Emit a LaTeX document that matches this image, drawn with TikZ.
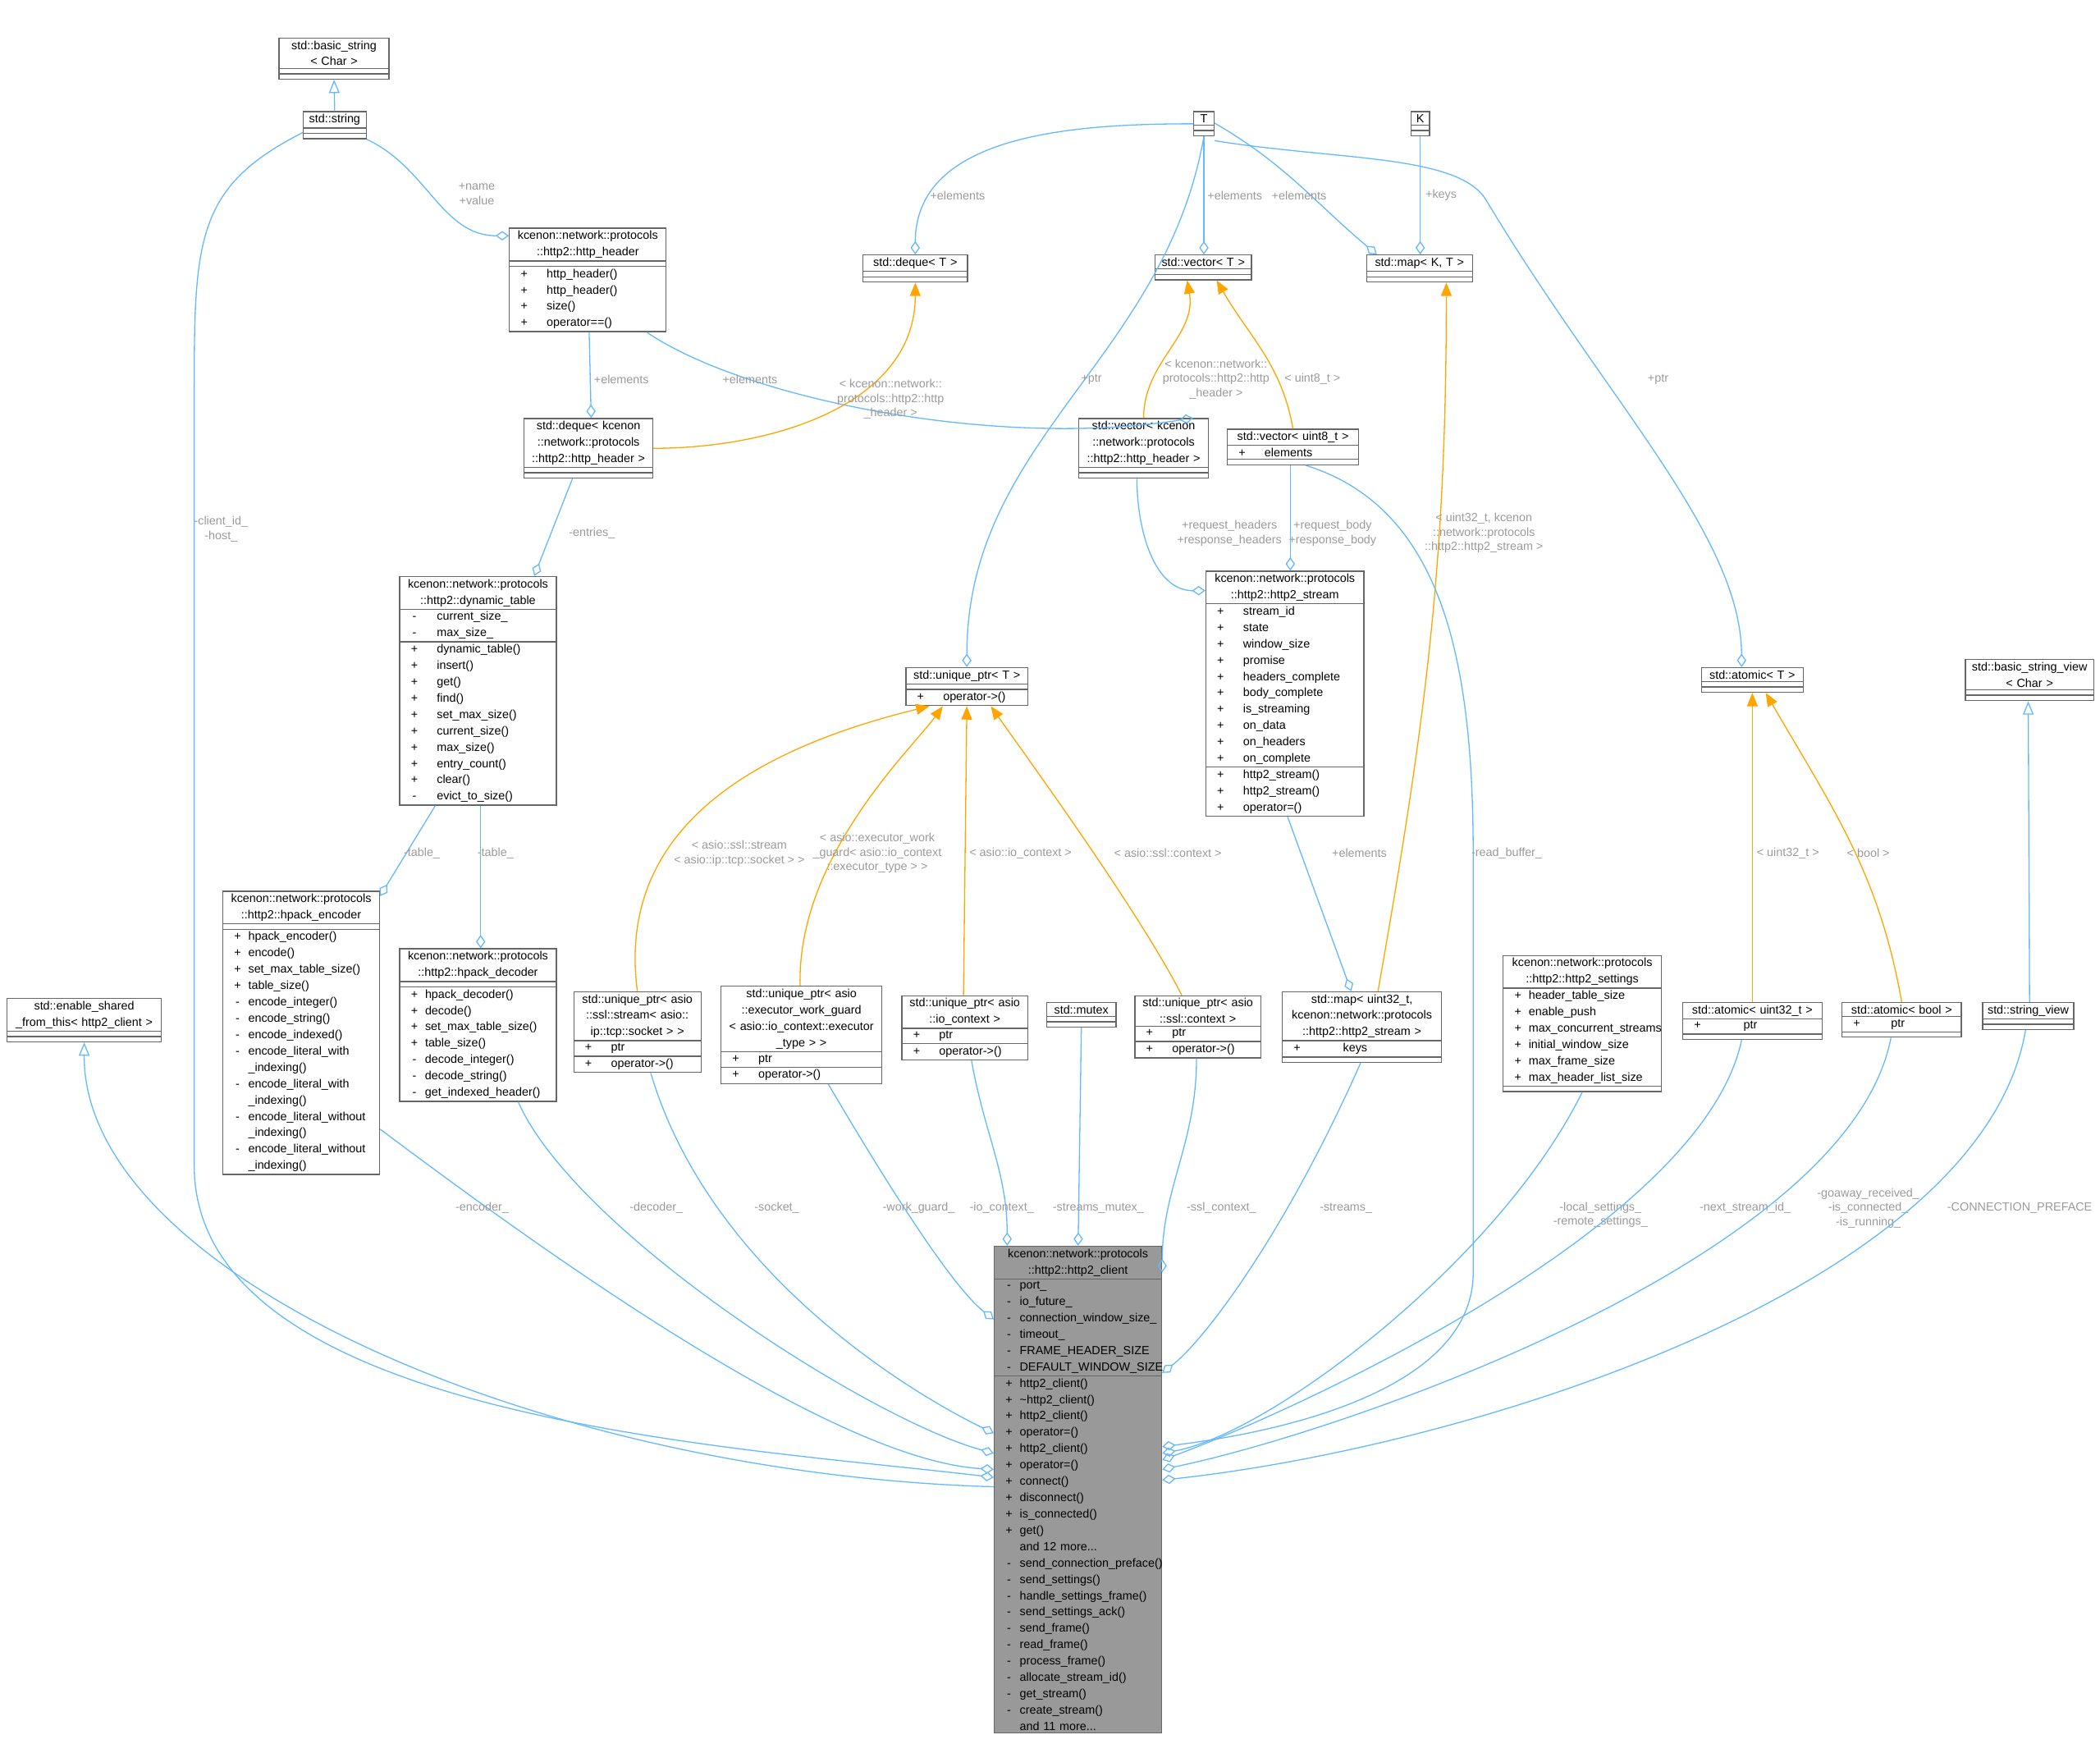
\documentclass[tikz,border=0pt]{standalone}
\usepackage{fontspec}
\newfontfamily\dox{Liberation Sans}
\usetikzlibrary{shapes.multipart,arrows.meta,calc}
\definecolor{edgeblue}{RGB}{99,184,255}
\definecolor{tmplorange}{RGB}{255,165,0}
\definecolor{lblgray}{RGB}{154,154,154}
\newcommand\mb[2]{\leavevmode\hbox to\linewidth{\makebox[8pt][c]{#1}#2\hfil}}
\begin{document}
\begin{tikzpicture}[x=0.5pt,y=-0.5pt]
 \tikzstyle{cls} = [rectangle split, rectangle split parts=3, draw=black!60, fill=white,
   font=\dox\fontsize{4.4}{6.1}\selectfont, inner xsep=1.5pt, inner ysep=0.8pt,
   align=center, anchor=north west, rectangle split empty part height=4.5pt];
 \tikzstyle{agg} = [draw=edgeblue, -{Diamond[open,length=5pt,width=3.5pt]}];
 \tikzstyle{inh} = [draw=edgeblue, -{Triangle[open,length=5pt,width=4pt]}];
 \tikzstyle{tpl} = [draw=tmplorange, -{Triangle[length=5pt,width=4pt]}];
 \tikzstyle{lbl} = [font=\dox\fontsize{4.4}{5.4}\selectfont, text=lblgray, align=center, inner sep=0.5pt];
 \useasboundingbox (0,0) rectangle (1568,1302);

% classes, top row
\node [cls, text width=38pt] (bstr) at (208,28) {std::basic\_string\\< Char >\nodepart{two}\nodepart{three}};
\node [cls, text width=20.5pt] (str) at (226,83) {std::string\nodepart{two}\nodepart{three}};
\node [cls, text width=4.5pt] (tT) at (891,83) {T\nodepart{two}\nodepart{three}};
\node [cls, text width=4pt] (tK) at (1053,83) {K\nodepart{two}\nodepart{three}};
\node [cls, text width=55.5pt] (hh) at (380,170) {kcenon::network::protocols\\::http2::http\_header\nodepart{two}\nodepart{three}
  \mb{+}{\quad http\_header()}\\\mb{+}{\quad http\_header()}\\\mb{+}{\quad size()}\\\mb{+}{\quad operator==()}};
\node [cls, text width=36pt] (dqT) at (644,190) {std::deque< T >\nodepart{two}\nodepart{three}};
\node [cls, text width=33pt] (vecT) at (862,190) {std::vector< T >\nodepart{two}\nodepart{three}};
\node [cls, text width=36.5pt] (mapKT) at (1020,190) {std::map< K, T >\nodepart{two}\nodepart{three}};
\node [cls, text width=45pt] (dqhh) at (391,312) {std::deque< kcenon\\::network::protocols\\::http2::http\_header >\nodepart{two}\nodepart{three}};
\node [cls, text width=45.5pt] (vechh) at (805,312) {std::vector< kcenon\\::network::protocols\\::http2::http\_header >\nodepart{two}\nodepart{three}};
\node [cls, text width=46pt] (vecu8) at (916,320) {std::vector< uint8\_t >\nodepart{two}\mb{+}{\quad elements}\nodepart{three}};

% classes, middle row
\node [cls, text width=55.5pt] (dyn) at (298,430) {kcenon::network::protocols\\::http2::dynamic\_table\nodepart{two}
  \mb{-}{\quad current\_size\_}\\\mb{-}{\quad max\_size\_}\nodepart{three}
  \mb{+}{\quad dynamic\_table()}\\\mb{+}{\quad insert()}\\\mb{+}{\quad get()}\\\mb{+}{\quad find()}\\
  \mb{+}{\quad set\_max\_size()}\\\mb{+}{\quad current\_size()}\\\mb{+}{\quad max\_size()}\\
  \mb{+}{\quad entry\_count()}\\\mb{+}{\quad clear()}\\\mb{-}{\quad evict\_to\_size()}};
\node [cls, text width=56pt] (strm) at (900,426) {kcenon::network::protocols\\::http2::http2\_stream\nodepart{two}
  \mb{+}{\quad stream\_id}\\\mb{+}{\quad state}\\\mb{+}{\quad window\_size}\\\mb{+}{\quad promise}\\
  \mb{+}{\quad headers\_complete}\\\mb{+}{\quad body\_complete}\\\mb{+}{\quad is\_streaming}\\
  \mb{+}{\quad on\_data}\\\mb{+}{\quad on\_headers}\\\mb{+}{\quad on\_complete}\nodepart{three}
  \mb{+}{\quad http2\_stream()}\\\mb{+}{\quad http2\_stream()}\\\mb{+}{\quad operator=()}};
\node [cls, text width=42.5pt] (uptr) at (676,498) {std::unique\_ptr<~T~>\nodepart{two}\nodepart{three}\mb{+}{\quad operator->()}};
\node [cls, text width=35pt] (atomT) at (1270,498) {std::atomic< T >\nodepart{two}\nodepart{three}};
\node [cls, text width=45pt] (bsv) at (1467,492) {std::basic\_string\_view\\< Char >\nodepart{two}\nodepart{three}};

% classes, lower row
\node [cls, text width=55.5pt] (enc) at (166,665) {kcenon::network::protocols\\::http2::hpack\_encoder\nodepart{two}\nodepart{three}
  \mb{+}{hpack\_encoder()}\\\mb{+}{encode()}\\\mb{+}{set\_max\_table\_size()}\\\mb{+}{table\_size()}\\
  \mb{-}{encode\_integer()}\\\mb{-}{encode\_string()}\\\mb{-}{encode\_indexed()}\\
  \mb{-}{encode\_literal\_with}\\\mb{}{\_indexing()}\\\mb{-}{encode\_literal\_with}\\\mb{}{\_indexing()}\\
  \mb{-}{encode\_literal\_without}\\\mb{}{\_indexing()}\\\mb{-}{encode\_literal\_without}\\\mb{}{\_indexing()}};
\node [cls, text width=55.5pt] (dec) at (298,708) {kcenon::network::protocols\\::http2::hpack\_decoder\nodepart{two}\nodepart{three}
  \mb{+}{hpack\_decoder()}\\\mb{+}{decode()}\\\mb{+}{set\_max\_table\_size()}\\\mb{+}{table\_size()}\\
  \mb{-}{decode\_integer()}\\\mb{-}{decode\_string()}\\\mb{-}{get\_indexed\_header()}};
\node [cls, text width=54.5pt] (esft) at (5,745) {std::enable\_shared\\\_from\_this< http2\_client >\nodepart{two}\nodepart{three}};
\node [cls, text width=44.5pt] (upsock) at (428,740) {std::unique\_ptr< asio\\::ssl::stream< asio::\\ip::tcp::socket > >\nodepart{two}
  \mb{+}{\quad ptr}\nodepart{three}\mb{+}{\quad operator->()}};
\node [cls, text width=57pt] (upwg) at (538,736) {std::unique\_ptr< asio\\::executor\_work\_guard\\< asio::io\_context::executor\\\_type > >\nodepart{two}
  \mb{+}{\quad ptr}\nodepart{three}\mb{+}{\quad operator->()}};
\node [cls, text width=44pt] (upio) at (673,743) {std::unique\_ptr< asio\\::io\_context >\nodepart{two}
  \mb{+}{\quad ptr}\nodepart{three}\mb{+}{\quad operator->()}};
\node [cls, text width=23pt] (mtx) at (781,748) {std::mutex\nodepart{two}\nodepart{three}};
\node [cls, text width=44pt] (upctx) at (847,743) {std::unique\_ptr< asio\\::ssl::context >\nodepart{two}
  \mb{+}{\quad ptr}\nodepart{three}\mb{+}{\quad operator->()}};
\node [cls, text width=56.5pt] (mapstrm) at (957,740) {std::map< uint32\_t,\\kcenon::network::protocols\\::http2::http2\_stream >\nodepart{two}
  \mb{+}{\qquad\quad keys}\nodepart{three}};
\node [cls, text width=56pt] (sett) at (1122,713) {kcenon::network::protocols\\::http2::http2\_settings\nodepart{two}
  \mb{+}{header\_table\_size}\\\mb{+}{enable\_push}\\\mb{+}{max\_concurrent\_streams}\\
  \mb{+}{initial\_window\_size}\\\mb{+}{max\_frame\_size}\\\mb{+}{max\_header\_list\_size}\nodepart{three}};
\node [cls, text width=49pt] (atu32) at (1256,748) {std::atomic< uint32\_t >\nodepart{two}\mb{+}{\qquad\quad ptr}\nodepart{three}};
\node [cls, text width=41.5pt] (atbool) at (1375,748) {std::atomic< bool >\nodepart{two}\mb{+}{\qquad ptr}\nodepart{three}};
\node [cls, text width=31pt] (sv) at (1480,748) {std::string\_view\nodepart{two}\nodepart{three}};

% the client
\node [cls, text width=59.5pt, fill=black!40] (cli) at (742,930) {kcenon::network::protocols\\::http2::http2\_client\nodepart{two}
  \mb{-}{port\_}\\\mb{-}{io\_future\_}\\\mb{-}{connection\_window\_size\_}\\\mb{-}{timeout\_}\\
  \mb{-}{FRAME\_HEADER\_SIZE}\\\mb{-}{DEFAULT\_WINDOW\_SIZE}\nodepart{three}
  \mb{+}{http2\_client()}\\\mb{+}{\textasciitilde http2\_client()}\\\mb{+}{http2\_client()}\\\mb{+}{operator=()}\\
  \mb{+}{http2\_client()}\\\mb{+}{operator=()}\\\mb{+}{connect()}\\\mb{+}{disconnect()}\\
  \mb{+}{is\_connected()}\\\mb{+}{get()}\\\mb{}{and 12 more...}\\
  \mb{-}{send\_connection\_preface()}\\\mb{-}{send\_settings()}\\\mb{-}{handle\_settings\_frame()}\\
  \mb{-}{send\_settings\_ack()}\\\mb{-}{send\_frame()}\\\mb{-}{read\_frame()}\\\mb{-}{process\_frame()}\\
  \mb{-}{allocate\_stream\_id()}\\\mb{-}{get\_stream()}\\\mb{-}{create\_stream()}\\\mb{}{and 11 more...}};

% attach points on the client
\coordinate (cW1) at ($(cli.north west)+(0,180)$);
\coordinate (cW2) at ($(cli.north west)+(0,173)$);
\coordinate (cW3) at ($(cli.north west)+(0,167)$);
\coordinate (cW4) at ($(cli.north west)+(0,155)$);
\coordinate (cW5) at ($(cli.north west)+(0,140)$);
\coordinate (cW6) at ($(cli.north west)+(0,55)$);
\coordinate (cE1) at ($(cli.north east)+(0,95)$);
\coordinate (cE2) at ($(cli.north east)+(0,150)$);
\coordinate (cE3) at ($(cli.north east)+(0,155)$);
\coordinate (cE4) at ($(cli.north east)+(0,160)$);
\coordinate (cE5) at ($(cli.north east)+(0,167)$);
\coordinate (cE6) at ($(cli.north east)+(0,175)$);

% top connectors
\draw [inh] (str.north) -- (bstr.south);
\draw [agg] (str.south east) to [out=-25,in=180] ($(hh.north west)+(0,6)$);
\node [lbl] (lnv) at (356,145) {+name\\+value};
\draw [agg] (tT.west) to [out=180,in=90] (dqT.north);
\node [lbl] (le1) at (715,146) {+elements};
\draw [agg] (tT.south) -- (tT.south |- vecT.north);
\node [lbl] (le2) at (922,146) {+elements};
\draw [agg] ($(tT.south east)+(0,-10)$) to [out=-30,in=140] ($(mapKT.north west)+(8,0)$);
\node [lbl] (le3) at (970,146) {+elements};
\draw [agg] (tK.south) -- (tK.south |- mapKT.north);
\node [lbl] (lkeys) at (1076,146) {+keys};
\draw [agg] (tT.south) to [out=-100,in=90] (uptr.north);
\node [lbl] (lp1) at (815,283) {+ptr};
\draw [agg] ($(tT.north east)+(0,22)$) .. controls (1000,120) and (1090,115) .. (1110,150) .. controls (1200,300) and (1300,400) .. ($(atomT.north)+(-8,0)$);
\node [lbl] (lp2) at (1238,283) {+ptr};
\draw [agg] ($(hh.south)+(1,0)$) -- ($(dqhh.north)+(2,0)$);
\node [lbl] (le4) at (464,283) {+elements};
\draw [agg] ($(hh.south east)+(-15,0)$) .. controls (560,300) and (750,335) .. ($(vechh.north east)+(-12,0)$);
\node [lbl] (le5) at (560,283) {+elements};
\draw [tpl] (dqhh.east) to [out=0,in=-90] (dqT.south);
\node [lbl] (lt1) at (665,298) {< kcenon::network::\\protocols::http2::http\\\_header >};
\draw [tpl] ($(vechh.north)+(0,0)$) to [out=90,in=-80] ($(vecT.south)+(-12,0)$);
\node [lbl] (lt2) at (908,283) {< kcenon::network::\\protocols::http2::http\\\_header >};
\draw [tpl] (vecu8.north) to [out=100,in=-60] ($(vecT.south)+(10,0)$);
\node [lbl] (lt3) at (980,283) {< uint8\_t >};
\draw [tpl] ($(mapstrm.north)+(12,0)$) to [out=80,in=-90] ($(mapKT.south)+(20,0)$);
\node [lbl] (lt4) at (1108,398) {< uint32\_t, kcenon\\::network::protocols\\::http2::http2\_stream >};

% middle connectors
\draw [agg] ($(dqhh.south)+(-12,0)$) -- ($(dyn.north)+(42,0)$);
\node [lbl] (lent) at (442,398) {-entries\_};
\draw [agg] ($(vechh.south)+(-5,0)$) to [out=-90,in=180] ($(strm.north west)+(0,15)$);
\node [lbl] (lrh) at (918,398) {+request\_headers\\+response\_headers};
\draw [agg] ($(vecu8.south)+(-2,0)$) -- ($(strm.north)+(4,0)$);
\node [lbl] (lrb) at (995,398) {+request\_body\\+response\_body};
\draw [agg] ($(vecu8.south east)+(-40,0)$) .. controls (1080,380) and (1100,500) .. (1100,640) -- (1100,950) .. controls (1100,1040) and (950,1070) .. (cE2);
\node [lbl] (lrbuf) at (1125,637) {-read\_buffer\_};
\draw [agg] ($(dyn.south west)+(27,0)$) -- ($(enc.north east)+(0,4)$);
\node [lbl] (lt5) at (315,637) {-table\_};
\draw [agg] ($(dyn.south)+(2,0)$) -- ($(dec.north)+(2,0)$);
\node [lbl] (lt6) at (370,637) {-table\_};
\draw [agg] ($(strm.south)+(2,0)$) -- ($(mapstrm.north)+(-8,0)$);
\node [lbl] (le6) at (1015,637) {+elements};
\draw [tpl] (upsock.north) .. controls (460,620) and (560,560) .. ($(uptr.south west)+(18,0)$);
\node [lbl] (lt7) at (552,637) {< asio::ssl::stream\\< asio::ip::tcp::socket > >};
\draw [tpl] ($(upwg.north)+(-1,0)$) .. controls (595,640) and (680,560) .. ($(uptr.south west)+(28,0)$);
\node [lbl] (lt8) at (655,637) {< asio::executor\_work\\\_guard< asio::io\_context\\::executor\_type > >};
\draw [tpl] ($(upio.north)+(-1,0)$) -- ($(uptr.south)+(0,0)$);
\node [lbl] (lt9) at (762,637) {< asio::io\_context >};
\draw [tpl] ($(upctx.north)+(-12,0)$) .. controls (850,680) and (770,570) .. ($(uptr.south east)+(-28,0)$);
\node [lbl] (lt10) at (872,637) {< asio::ssl::context >};
\draw [tpl] ($(atu32.north)+(0,0)$) -- ($(atomT.south)+(0,0)$);
\node [lbl] (lt11) at (1335,637) {< uint32\_t >};
\draw [tpl] (atbool.north) to [out=100,in=-60] ($(atomT.south)+(10,0)$);
\node [lbl] (lt12) at (1395,637) {< bool >};
\draw [inh] ($(sv.north)+(1,0)$) -- ($(bsv.south)+(-1,0)$);

% connectors into the client
\draw [agg] ($(str.south west)+(0,-5)$) .. controls (145,140) and (145,180) .. (145,300) -- (145,870) .. controls (145,1060) and (550,1080) .. (cW2);
\node [lbl] (lcid) at (165,395) {-client\_id\_\\-host\_};
\draw [inh] (cW1) .. controls (400,1100) and (62,950) .. (esft.south);
\draw [agg] ($(enc.north east)+(0,178)$) .. controls (400,930) and (620,1090) .. (cW3);
\node [lbl] (lenc) at (360,902) {-encoder\_};
\draw [agg] ($(dec.south)+(30,0)$) .. controls (430,920) and (650,1060) .. (cW4);
\node [lbl] (ldec) at (490,902) {-decoder\_};
\draw [agg] ($(upsock.south)+(10,0)$) .. controls (530,950) and (680,1040) .. (cW5);
\node [lbl] (lsock) at (580,902) {-socket\_};
\draw [agg] ($(upwg.south)+(20,0)$) .. controls (660,880) and (710,960) .. (cW6);
\node [lbl] (lwg) at (686,902) {-work\_guard\_};
\draw [agg] ($(upio.south)+(5,0)$) to [out=-80,in=90] ($(cli.north west)+(10,0)$);
\node [lbl] (lio) at (748,902) {-io\_context\_};
\draw [agg] (mtx.south) -- ($(cli.north west)+(63,0)$);
\node [lbl] (lmtx) at (820,902) {-streams\_mutex\_};
\draw [agg] ($(upctx.south)+(-1,0)$) to [out=-90,in=90] ($(cli.north east)+(0,20)$);
\node [lbl] (lctx) at (912,902) {-ssl\_context\_};
\draw [agg] ($(mapstrm.south)+(-1,0)$) .. controls (960,920) and (900,1000) .. (cE1);
\node [lbl] (lstr) at (1005,902) {-streams\_};
\draw [agg] (sett.south) .. controls (1120,940) and (950,1070) .. (cE3);
\node [lbl] (lset) at (1195,907) {-local\_settings\_\\-remote\_settings\_};
\draw [agg] ($(atu32.south)+(-8,0)$) .. controls (1270,920) and (950,1060) .. (cE4);
\node [lbl] (lnid) at (1303,902) {-next\_stream\_id\_};
\draw [agg] ($(atbool.south)+(-8,0)$) .. controls (1380,940) and (1000,1070) .. (cE5);
\node [lbl] (lgo) at (1395,902) {-goaway\_received\_\\-is\_connected\_\\-is\_running\_};
\draw [agg] ($(sv.south)+(-2,0)$) .. controls (1480,960) and (1100,1080) .. (cE6);
\node [lbl] (lcp) at (1508,902) {-CONNECTION\_PREFACE};
\end{tikzpicture}
\end{document}
